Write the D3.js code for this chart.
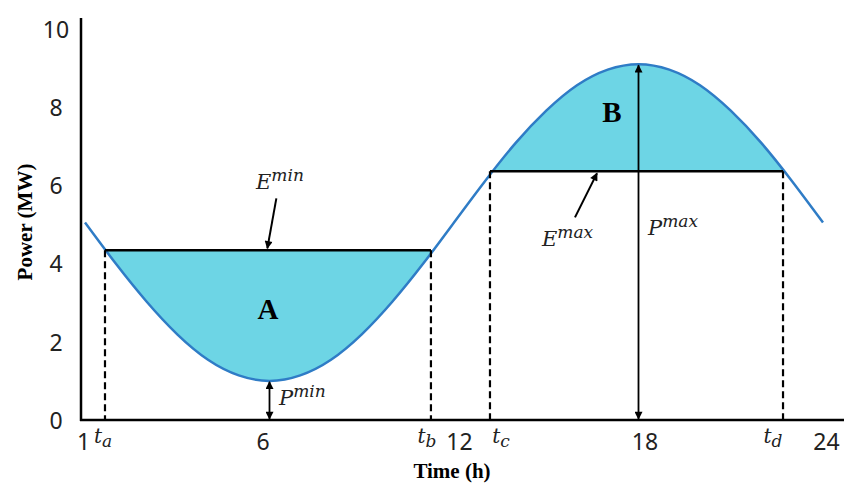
<!DOCTYPE html>
<html>
<head>
<meta charset="utf-8">
<script src="https://cdn.jsdelivr.net/npm/d3@7"></script>
<style>
  body { margin: 0; background: #fff; }
  svg { display: block; }
</style>
</head>
<body>
<svg id="chart" width="844" height="487"></svg>
<script>
// Hourly load profile (MW)
const hours = [0, 1, 2, 3, 4, 5, 6, 7, 8, 9, 10, 11, 12, 13, 14, 15, 16, 17, 18, 19, 20, 21, 22, 23, 24];
const power = [5.05, 4.00, 3.03, 2.19, 1.54, 1.14, 1.00, 1.14, 1.54, 2.19, 3.03, 4.00, 5.05,
               6.10, 7.08, 7.91, 8.56, 8.96, 9.10, 8.96, 8.56, 7.91, 7.08, 6.10, 5.05];

// Axis ticks
const xTickHours = [0, 6, 12, 18, 24];
const xTickLabels = ["1", "6", "12", "18", "24"];
const yTicks = [0, 2, 4, 6, 8, 10];

// Energy levels and the hours where the load crosses them
const eMin = 4.34;
const eMax = 6.36;
const crossHours = [0.65, 11.25, 13.17, 22.7];
const crossNames = ["a", "b", "c", "d"];

// Peak and valley of the load
const pMinHour = 6,  pMin = 1.0;
const pMaxHour = 18, pMax = 9.1;

const svg = d3.select("#chart");
const x = d3.scaleLinear().domain([0, 24]).range([85, 823]);
const y = d3.scaleLinear().domain([0, 10]).range([420, 29]);

const fillColor = "#6dd5e5";
const lineColor = "#2f7cc6";
const serif = "'Liberation Serif', 'Times New Roman', serif";
const mathFont = "'DejaVu Serif', 'Liberation Serif', serif";
const sans = "'Noto Sans', 'Open Sans', sans-serif";

const pts = hours.map((h, i) => [h, power[i]]);

// Arrow markers
const defs = svg.append("defs");
defs.append("marker").attr("id", "head")
  .attr("viewBox", "0 0 10 10").attr("refX", 9).attr("refY", 5)
  .attr("markerWidth", 9).attr("markerHeight", 8).attr("markerUnits", "userSpaceOnUse")
  .attr("orient", "auto-start-reverse")
  .append("path").attr("d", "M0,0 L10,5 L0,10 Z").attr("fill", "#000");

// Clip regions for the two shaded energy areas
defs.append("clipPath").attr("id", "clipA").append("rect")
  .attr("x", x(crossHours[0])).attr("y", y(eMin))
  .attr("width", x(crossHours[1]) - x(crossHours[0]))
  .attr("height", y(0) - y(eMin));
defs.append("clipPath").attr("id", "clipB").append("rect")
  .attr("x", x(crossHours[2])).attr("y", 0)
  .attr("width", x(crossHours[3]) - x(crossHours[2]))
  .attr("height", y(eMax));

const areaTo = level => d3.area()
  .x(d => x(d[0])).y0(y(level)).y1(d => y(d[1]))
  .curve(d3.curveNatural);

svg.append("path").datum(pts).attr("d", areaTo(eMin))
  .attr("fill", fillColor).attr("clip-path", "url(#clipA)");
svg.append("path").datum(pts).attr("d", areaTo(eMax))
  .attr("fill", fillColor).attr("clip-path", "url(#clipB)");

// Load curve
svg.append("path").datum(pts)
  .attr("d", d3.line().x(d => x(d[0])).y(d => y(d[1])).curve(d3.curveNatural))
  .attr("fill", "none").attr("stroke", lineColor).attr("stroke-width", 2.5);

// Dashed drop lines at the crossing hours
const levelOf = [eMin, eMin, eMax, eMax];
svg.append("g").selectAll("line").data(crossHours).join("line")
  .attr("x1", d => x(d)).attr("x2", d => x(d))
  .attr("y1", (d, i) => y(levelOf[i])).attr("y2", y(0))
  .attr("stroke", "#000").attr("stroke-width", 2.2).attr("stroke-dasharray", "7,4");

// Energy level lines
svg.append("line").attr("x1", x(crossHours[0])).attr("x2", x(crossHours[1]))
  .attr("y1", y(eMin)).attr("y2", y(eMin)).attr("stroke", "#000").attr("stroke-width", 2.5);
svg.append("line").attr("x1", x(crossHours[2])).attr("x2", x(crossHours[3]))
  .attr("y1", y(eMax)).attr("y2", y(eMax)).attr("stroke", "#000").attr("stroke-width", 2.5);

// Double arrows for valley and peak
function dblArrow(h, v) {
  svg.append("line").attr("x1", x(h)).attr("x2", x(h))
    .attr("y1", y(0) - 1).attr("y2", y(v) + 1)
    .attr("stroke", "#000").attr("stroke-width", 1.8)
    .attr("marker-start", "url(#head)").attr("marker-end", "url(#head)");
}
dblArrow(pMinHour, pMin);
dblArrow(pMaxHour, pMax);

// Pointer arrows to the energy lines
function pointer(h, v, dx, dy) {
  svg.append("line")
    .attr("x1", x(h) + dx).attr("y1", y(v) + dy)
    .attr("x2", x(h)).attr("y2", y(v) - (dy > 0 ? -2 : 2))
    .attr("stroke", "#000").attr("stroke-width", 2)
    .attr("marker-end", "url(#head)");
}
pointer(5.93, eMin, 9, -52);
pointer(16.65, eMax, -22, 46);

// Axes
svg.append("line").attr("x1", 81).attr("x2", 81).attr("y1", 18).attr("y2", y(0) + 1)
  .attr("stroke", "#000").attr("stroke-width", 2.5);
svg.append("line").attr("x1", 80).attr("x2", 844).attr("y1", y(0)).attr("y2", y(0))
  .attr("stroke", "#000").attr("stroke-width", 2.5);

const yAxis = svg.append("g").attr("transform", "translate(81,0)")
  .call(d3.axisLeft(y).tickValues(yTicks).tickSize(0).tickFormat(d3.format("d")));
yAxis.select(".domain").remove();
yAxis.selectAll("text").attr("x", -25).attr("dy", "0.36em")
  .attr("text-anchor", "middle")
  .style("font-family", sans).style("font-size", "23px").attr("fill", "#222");

const xNudge = [-2, -7, 5, 6, 3];
const xAxis = svg.append("g").attr("transform", `translate(0,${y(0)})`)
  .call(d3.axisBottom(x).tickValues(xTickHours).tickSize(0)
    .tickFormat((d, i) => xTickLabels[i]));
xAxis.select(".domain").remove();
xAxis.selectAll("text").attr("y", 0).attr("dy", "30px")
  .attr("x", (d, i) => xNudge[i])
  .style("font-family", sans).style("font-size", "23px").attr("fill", "#222");

// Crossing-hour labels t_a .. t_d
const tNudge = [-2, -4, 11, -10];
const tl = svg.append("g").selectAll("text").data(crossHours).join("text")
  .attr("x", (d, i) => x(d) + tNudge[i]).attr("y", y(0) + 23)
  .attr("text-anchor", "middle")
  .style("font-family", mathFont).style("font-style", "italic").attr("fill", "#222");
tl.append("tspan").style("font-size", "20px").text("t");
tl.append("tspan").style("font-size", "17px").attr("dy", 4).text((d, i) => crossNames[i]);

// Math-style annotation with superscript
function supLabel(px, py, base, sup) {
  const t = svg.append("text").attr("x", px).attr("y", py)
    .style("font-family", mathFont).style("font-style", "italic").attr("fill", "#222");
  t.append("tspan").style("font-size", "21px").text(base);
  t.append("tspan").style("font-size", "17px").attr("dy", -8).text(sup);
}
supLabel(256, 189, "E", "min");
supLabel(542, 246, "E", "max");
supLabel(648, 235, "P", "max");
supLabel(279, 405, "P", "min");

// Region labels
svg.append("text").attr("x", 268).attr("y", 319).attr("text-anchor", "middle")
  .style("font-family", serif).style("font-weight", "bold").style("font-size", "29px")
  .text("A");
svg.append("text").attr("x", 612).attr("y", 122).attr("text-anchor", "middle")
  .style("font-family", serif).style("font-weight", "bold").style("font-size", "29px")
  .text("B");

// Axis titles
svg.append("text").attr("x", 452).attr("y", 478).attr("text-anchor", "middle")
  .style("font-family", serif).style("font-weight", "bold").style("font-size", "21px")
  .text("Time (h)");
svg.append("text").attr("transform", "translate(32,222) rotate(-90)")
  .attr("text-anchor", "middle")
  .style("font-family", serif).style("font-weight", "bold").style("font-size", "21px")
  .text("Power (MW)");
</script>
</body>
</html>
